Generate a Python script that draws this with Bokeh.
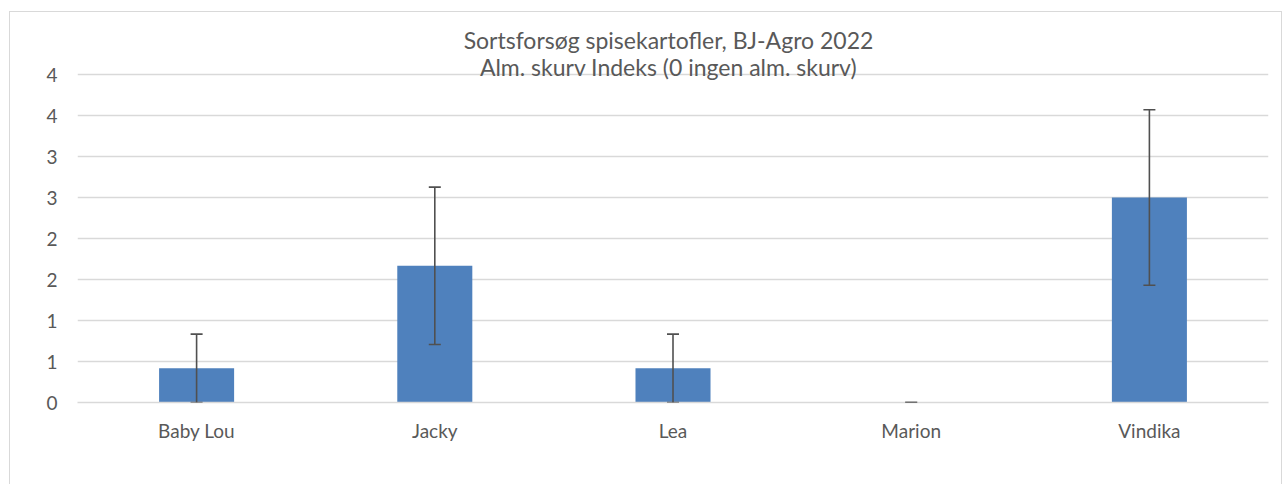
from bokeh.plotting import figure
from bokeh.models import ColumnDataSource, FixedTicker, Whisker, TeeHead, Label, Range1d
from bokeh.embed import file_html
from bokeh.resources import INLINE

categories = ["Baby Lou", "Jacky", "Lea", "Marion", "Vindika"]
values = [0.417, 1.667, 0.417, 0.0, 2.5]
errors = [0.417, 0.96, 0.417, 0.0, 1.07]
y_ticks = [0, 0.5, 1, 1.5, 2, 2.5, 3, 3.5, 4]
y_tick_labels = ["0", "1", "1", "2", "2", "3", "3", "4", "4"]
title_lines = ["Sortsforsøg spisekartofler, BJ-Agro 2022",
               "Alm. skurv Indeks (0 ingen alm. skurv)"]

FONT = "Lato"
TXT = "#595959"
GRID = "#d9d9d9"

src = ColumnDataSource(dict(
    cat=categories, val=values,
    upper=[v + e for v, e in zip(values, errors)],
    lower=[v - e for v, e in zip(values, errors)],
))

# frame: 382 px tall, 82 px per unit -> room for the title above the value 4
p = figure(x_range=categories, y_range=Range1d(0, 382 / 82), width=1273, height=473,
           output_backend="svg", toolbar_location=None,
           min_border_left=67, min_border_right=15,
           min_border_top=8, min_border_bottom=83)
p.styles = {"border-left": "1px solid #d9d9d9", "border-top": "1px solid #d9d9d9",
            "border-right": "1px solid #d9d9d9", "margin-top": "11px", "margin-left": "9px"}
p.outline_line_color = None
p.background_fill_color = "white"

p.vbar(x="cat", top="val", width=0.315, source=src, fill_color="#4f81bd", line_color=None)

w = Whisker(base="cat", upper="upper", lower="lower", source=src,
            line_color="#505050", line_width=1.6, level="overlay",
            upper_head=TeeHead(size=12, line_color="#505050", line_width=1.6),
            lower_head=TeeHead(size=12, line_color="#505050", line_width=1.6))
p.add_layout(w)

p.yaxis.ticker = FixedTicker(ticks=y_ticks)
p.yaxis.major_label_overrides = {t: l for t, l in zip(y_ticks, y_tick_labels)}
p.yaxis.axis_line_color = None
p.yaxis.major_tick_line_color = None
p.yaxis.minor_tick_line_color = None
p.yaxis.major_label_standoff = 14
p.ygrid.grid_line_color = GRID
p.ygrid.grid_line_width = 1.3
p.xgrid.grid_line_color = None

p.xaxis.axis_line_color = GRID
p.xaxis.axis_line_width = 1.3
p.xaxis.major_tick_line_color = None
p.xaxis.minor_tick_line_color = None
p.xaxis.major_label_standoff = 10

for ax in (p.xaxis, p.yaxis):
    ax.major_label_text_font = FONT
    ax.major_label_text_font_size = "19px"
    ax.major_label_text_color = TXT

for line, yb in zip(title_lines, [363, 336]):
    p.add_layout(Label(x=591, y=yb, x_units="screen", y_units="screen",
                       text=line, text_font=FONT, text_font_size="23px",
                       text_color=TXT, text_align="center", text_baseline="alphabetic"))

open("out.html", "w").write(file_html(p, INLINE))
